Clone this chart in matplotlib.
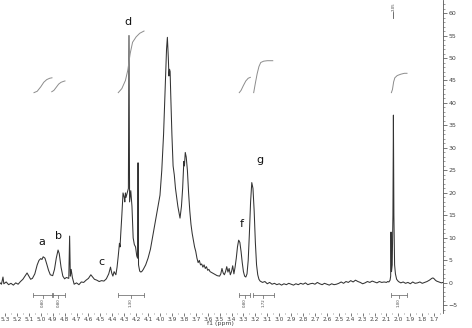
import matplotlib
matplotlib.use("Agg")
import matplotlib.pyplot as plt
from matplotlib.ticker import MultipleLocator

# 1H NMR spectrum (ppm, intensity)
shift_ppm = [
    5.342, 5.33, 5.317, 5.31, 5.29, 5.27, 5.25, 5.23, 5.21, 5.19, 5.17, 5.15,
    5.13, 5.115, 5.10, 5.085, 5.07, 5.05, 5.03, 5.015, 5.00, 4.99, 4.98, 4.965,
    4.95, 4.935, 4.92, 4.90, 4.885, 4.87, 4.855, 4.845, 4.83, 4.815, 4.80, 4.785,
    4.765, 4.758, 4.752, 4.745, 4.735, 4.72, 4.70, 4.68, 4.66, 4.64, 4.62, 4.60,
    4.58, 4.565, 4.55, 4.53, 4.51, 4.49, 4.47, 4.45, 4.43, 4.415, 4.405, 4.395,
    4.385, 4.37, 4.36, 4.35, 4.34, 4.335, 4.33, 4.32, 4.31, 4.30, 4.295, 4.29,
    4.285, 4.275, 4.265, 4.26, 4.255, 4.245, 4.235, 4.225, 4.215, 4.205, 4.195,
    4.188, 4.184, 4.180, 4.17, 4.16, 4.15, 4.14, 4.12, 4.10, 4.08, 4.06, 4.04,
    4.02, 4.00, 3.985, 3.97, 3.955, 3.945, 3.938, 3.93, 3.925, 3.92, 3.915,
    3.91, 3.90, 3.89, 3.88, 3.87, 3.86, 3.85, 3.84, 3.832, 3.82, 3.81, 3.80,
    3.795, 3.788, 3.78, 3.77, 3.76, 3.75, 3.74, 3.73, 3.72, 3.71, 3.70, 3.69,
    3.68, 3.67, 3.66, 3.65, 3.64, 3.63, 3.62, 3.61, 3.60, 3.59, 3.58, 3.56,
    3.54, 3.52, 3.50, 3.49, 3.48, 3.47, 3.46, 3.45, 3.44, 3.43, 3.42, 3.41,
    3.40, 3.39, 3.38, 3.37, 3.36, 3.35, 3.34, 3.33, 3.32, 3.31, 3.30, 3.29,
    3.28, 3.27, 3.26, 3.25, 3.24, 3.23, 3.22, 3.21, 3.20, 3.19, 3.18, 3.17,
    3.16, 3.14, 3.12, 3.10, 3.08, 3.06, 3.04, 3.02, 3.00, 2.98, 2.96, 2.94,
    2.92, 2.90, 2.88, 2.86, 2.84, 2.82, 2.80, 2.78, 2.76, 2.74, 2.72, 2.70,
    2.68, 2.66, 2.64, 2.62, 2.60, 2.58, 2.56, 2.54, 2.52, 2.50, 2.48, 2.46,
    2.44, 2.42, 2.40, 2.38, 2.36, 2.34, 2.32, 2.30, 2.28, 2.26, 2.24, 2.22,
    2.20, 2.18, 2.16, 2.14, 2.12, 2.10, 2.09, 2.08, 2.07, 2.065, 2.062, 2.058,
    2.052, 2.046, 2.042, 2.038, 2.032, 2.025, 2.015, 2.00, 1.98, 1.96, 1.94,
    1.92, 1.90, 1.88, 1.86, 1.84, 1.82, 1.80, 1.78, 1.76, 1.74, 1.72, 1.71,
    1.70, 1.69, 1.68, 1.66, 1.64, 1.626,
]
intensity = [
    0.0, -0.3, 1.3, -0.2, 0.2, -0.4, -0.1, -0.5, 0.0, -0.3, 0.3, 0.8,
    1.6, 2.2, 1.5, 0.8, 1.0, 2.0, 4.0, 5.0, 5.4, 5.2, 5.8, 5.5,
    4.2, 2.8, 1.8, 1.6, 3.0, 5.5, 7.3, 6.5, 3.5, 1.5, 0.9, 1.2,
    1.0, 10.4, 1.5, 3.0, 1.2, -0.3, 0.0, -0.4, 0.2, 0.1, 0.6, 1.0,
    1.8, 1.3, 0.8, 0.6, 0.3, 0.5, 0.4, 0.9, 2.0, 3.5, 2.2, 1.5,
    2.5, 1.8, 3.5, 6.0, 8.8, 8.0, 10.5, 15.0, 20.0, 19.0, 18.0, 20.0,
    19.0, 20.0, 21.0, 55.0, 18.0, 20.5, 17.0, 10.0, 8.5, 8.0, 6.0,
    5.5, 26.7, 4.0, 2.6, 2.4, 2.6, 3.0, 4.0, 5.5, 7.5, 10.5, 13.5,
    16.5, 19.5, 25.0, 33.0, 44.0, 52.0, 54.6, 50.0, 46.0, 47.5, 47.0,
    42.0, 33.0, 26.0, 24.0, 21.0, 19.0, 17.0, 15.5, 14.4, 17.0, 21.0, 27.0,
    26.0, 29.0, 28.0, 25.0, 20.0, 16.0, 13.0, 11.0, 9.5, 8.0, 7.0, 5.5,
    4.5, 5.0, 4.0, 4.2, 3.5, 4.0, 3.2, 3.6, 2.8, 3.0, 2.5, 2.2,
    1.9, 1.6, 1.5, 2.0, 3.2, 2.2, 1.8, 2.5, 3.6, 2.4, 3.2, 1.8,
    2.5, 3.8, 2.0, 3.5, 5.5, 8.0, 9.5, 9.0, 7.0, 4.5, 2.5, 1.5,
    1.3, 2.0, 5.0, 11.0, 18.0, 22.3, 21.0, 16.0, 9.0, 4.0, 1.8, 0.8,
    0.4, 0.1, 0.3, -0.2, 0.1, -0.3, -0.1, -0.4, -0.2, -0.5, -0.2, -0.4,
    -0.1, -0.3, -0.5, -0.2, -0.4, -0.1, -0.3, 0.0, -0.4, -0.2, -0.1, -0.3,
    0.1, -0.2, -0.4, -0.1, -0.3, -0.5, -0.2, -0.4, -0.3, -0.1, 0.2, -0.1,
    0.3, 0.1, 0.5, 0.2, 0.6, 0.3, 0.1, -0.2, 0.0, 0.3, 0.1, 0.4,
    0.2, 0.0, 0.3, 0.1, 0.2, 0.1, 0.3, 0.2, 0.6, 1.5, 11.3, 2.5,
    4.0, 15.0, 37.3, 15.0, 4.0, 2.0, 0.8, 0.3, 0.0, 0.2, -0.1,
    0.1, -0.2, 0.2, -0.1, 0.0, 0.2, -0.1, 0.1, 0.3, 0.6, 1.0, 1.1,
    0.9, 0.6, 0.4, 0.2, 0.0, 0.1,
]

# integral traces (ppm, running integral level)
integral_a = ([5.057, 5.03, 5.00, 4.975, 4.95, 4.925, 4.906], [42.3, 42.6, 43.6, 44.6, 45.2, 45.5, 45.6])
integral_b = ([4.908, 4.89, 4.87, 4.85, 4.83, 4.81, 4.797], [42.5, 42.8, 43.5, 44.2, 44.6, 44.8, 44.9])
integral_d = ([4.35, 4.32, 4.29, 4.27, 4.25, 4.23, 4.20, 4.17, 4.134], [42.3, 43.2, 45.0, 47.3, 51.0, 53.5, 54.7, 55.5, 56.0])
integral_f = ([3.335, 3.32, 3.30, 3.28, 3.26, 3.242], [42.3, 42.8, 43.9, 44.9, 45.5, 45.7])
integral_g = ([3.214, 3.20, 3.185, 3.17, 3.155, 3.13, 3.10, 3.054], [42.3, 44.4, 46.5, 48.1, 49.0, 49.3, 49.4, 49.4])
integral_last = ([2.059, 2.05, 2.04, 2.03, 2.01, 1.98, 1.95, 1.928], [42.3, 43.0, 44.7, 45.6, 46.1, 46.4, 46.6, 46.6])

int_start = [5.065, 4.906, 4.352, 3.337, 3.220, 2.062]
int_end = [4.898, 4.797, 4.134, 3.245, 3.044, 1.928]
int_labels = ["0.80", "0.80", "1.30", "0.80", "1.72", "1.00"]

peak_names = ["a", "b", "c", "d", "f", "g"]
peak_ppm = [4.990, 4.855, 4.495, 4.268, 3.312, 3.161]
peak_label_y = [8.0, 9.3, 3.6, 57.0, 12.0, 26.2]

W, H = 472, 328
fig = plt.figure(figsize=(W / 100, H / 100), dpi=100)
ax = fig.add_axes([0, 1 - 313 / H, 443 / W, 313 / H])

ax.plot(shift_ppm, intensity, color="#333333", lw=0.75)

for xs, ys in [integral_a, integral_b, integral_d, integral_f, integral_g, integral_last]:
    ax.plot(xs, ys, color="#8c8c8c", lw=0.7)

bar_y = -2.7
for s, e, lab in zip(int_start, int_end, int_labels):
    c = (s + e) / 2
    ax.plot([s, e], [bar_y, bar_y], color="#777777", lw=0.6)
    ax.plot([s, s], [bar_y - 0.4, bar_y + 0.4], color="#777777", lw=0.6)
    ax.plot([e, e], [bar_y - 0.4, bar_y + 0.4], color="#777777", lw=0.6)
    ax.plot([c, c], [bar_y, bar_y - 0.7], color="#777777", lw=0.6)
    ax.text(c, bar_y - 0.8, lab, rotation=90, ha="center", va="top",
            fontsize=2.8, color="#444444")

for name, px, py in zip(peak_names, peak_ppm, peak_label_y):
    ax.text(px, py, name, ha="center", va="bottom", fontsize=8, color="#111111")

# peak pick label on top
ax.plot([2.042, 2.042], [59.0, 60.2], color="#555555", lw=0.6)
ax.text(2.042, 60.4, "2.05", rotation=90, ha="center", va="bottom",
        fontsize=2.8, color="#444444")

ax.set_xlim(5.342, 1.626)
ax.set_ylim(-6.7, 62.9)

for sp in ["left", "top", "bottom"]:
    ax.spines[sp].set_visible(False)
ax.spines["right"].set_color("#555555")
ax.spines["right"].set_linewidth(0.6)

ax.yaxis.tick_right()
ax.yaxis.set_minor_locator(MultipleLocator(1))
ax.set_yticks(range(-5, 61, 5))
ax.tick_params(axis="y", which="major", length=3, width=0.5, labelsize=4.5,
               colors="#444444", pad=1)
ax.tick_params(axis="y", which="minor", length=1.5, width=0.4, colors="#555555")

ax.xaxis.set_minor_locator(MultipleLocator(0.05))
ax.set_xticks([round(5.3 - 0.1 * i, 1) for i in range(37)])
ax.set_xticklabels([f"{5.3 - 0.1 * i:.1f}" for i in range(37)])
ax.tick_params(axis="x", which="major", length=2, width=0.5, labelsize=4.2,
               colors="#444444", pad=1)
ax.tick_params(axis="x", which="minor", length=1, width=0.4, colors="#555555")

fig.text(220 / W, 1 - 324 / H, "f1 (ppm)", ha="center", va="center",
         fontsize=4.5, color="#444444")

fig.savefig("out.png", dpi=100)
